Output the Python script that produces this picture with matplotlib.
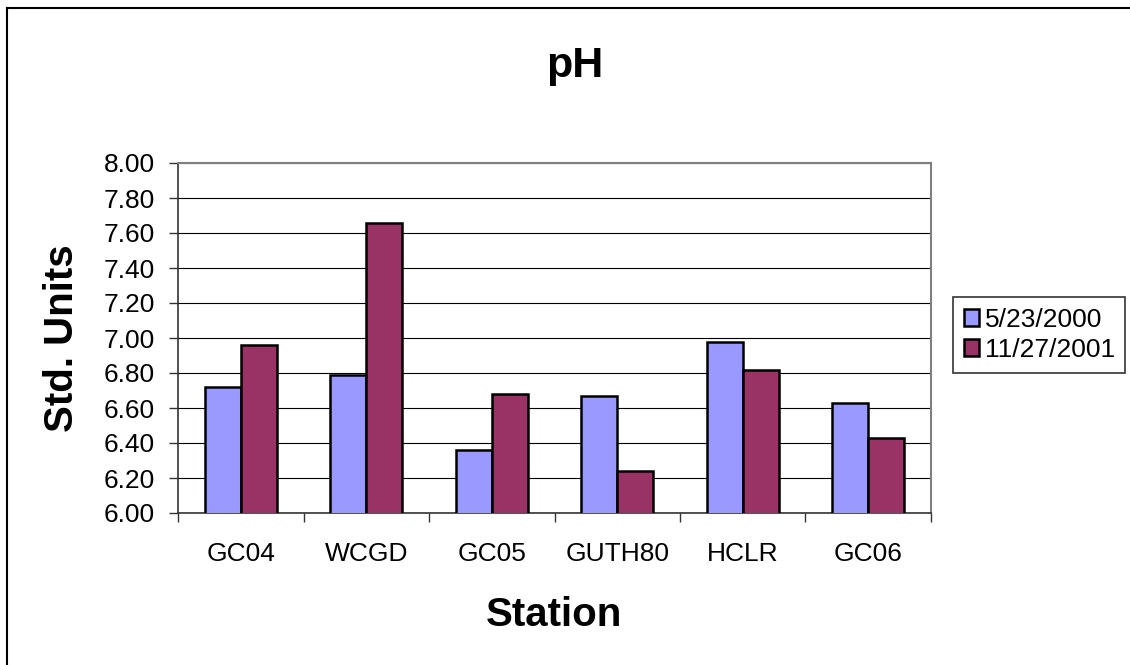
import numpy as np
import matplotlib
matplotlib.use("Agg")
import matplotlib.pyplot as plt
from matplotlib.lines import Line2D

plt.rcParams['font.family'] = ['Liberation Sans', 'DejaVu Sans']

# Werte
stations = ["GC04", "WCGD", "GC05", "GUTH80", "HCLR", "GC06"]
ph_2000 = [6.72, 6.79, 6.36, 6.67, 6.98, 6.63]
ph_2001 = [6.96, 7.66, 6.68, 6.24, 6.82, 6.43]
series_labels = ["5/23/2000", "11/27/2001"]
yticks = [6.00, 6.20, 6.40, 6.60, 6.80, 7.00, 7.20, 7.40, 7.60, 7.80, 8.00]

W, H = 1130, 665
fig = plt.figure(figsize=(W / 100, H / 100), dpi=100)
ax = fig.add_axes([178 / W, 1 - 513 / H, (931 - 178) / W, (513 - 163) / H])

x = np.arange(len(stations))
bw = 1 / 3.5  # Excel gap width 150%
ax.bar(x - bw / 2, ph_2000, bw, color="#9999FF", edgecolor="black", linewidth=1.8,
       label=series_labels[0], zorder=3)
ax.bar(x + bw / 2, ph_2001, bw, color="#993366", edgecolor="black", linewidth=1.8,
       label=series_labels[1], zorder=3)

ax.set_ylim(6.0, 8.0)
ax.set_xlim(-0.5, len(stations) - 0.5)
ax.set_yticks(yticks)
ax.set_yticklabels([f"{v:.2f}" for v in yticks])
ax.yaxis.grid(True, color="black", linewidth=0.8, zorder=0)
ax.set_axisbelow(True)

ax.set_xticks(x)
ax.set_xticklabels(stations)
ax.set_xticks(np.arange(-0.5, len(stations)), minor=True)
ax.tick_params(axis="x", which="major", length=0, pad=21, labelsize=19)
ax.tick_params(axis="x", which="minor", length=6.5, width=1, color="#333333")
ax.tick_params(axis="y", length=6.5, width=1, color="#333333", pad=10, labelsize=19)

for s in ["left", "bottom"]:
    ax.spines[s].set_color("#333333")
    ax.spines[s].set_linewidth(1.2)
for s in ["top", "right"]:
    ax.spines[s].set_color("#808080")
    ax.spines[s].set_linewidth(1.5)

fig.text(575 / W, 1 - 77 / H, "pH", ha="center", va="baseline", fontsize=31, fontweight="bold")
fig.text(554 / W, 1 - 626 / H, "Station", ha="center", va="baseline", fontsize=29, fontweight="bold")
fig.text(62 / W, 1 - 338 / H, "Std. Units", ha="center", va="center", rotation=90,
         fontsize=29, fontweight="bold")

leg = ax.legend(loc="upper left", bbox_to_anchor=(953 / W, 1 - 297 / H),
                bbox_transform=fig.transFigure, fontsize=19, frameon=True, fancybox=False,
                edgecolor="black", handlelength=0.6, handleheight=0.6, handletextpad=0.2,
                borderpad=0.4, labelspacing=0.25, borderaxespad=0)
leg.get_frame().set_linewidth(1.2)

# Rahmen um das Diagramm (nur links und oben sichtbar)
fig.add_artist(Line2D([7 / W, 7 / W], [0, 1 - 8 / H], transform=fig.transFigure,
                      color="black", linewidth=1.5))
fig.add_artist(Line2D([7 / W, 1], [1 - 8 / H, 1 - 8 / H], transform=fig.transFigure,
                      color="black", linewidth=1.5))

fig.savefig("out.png", dpi=100)
